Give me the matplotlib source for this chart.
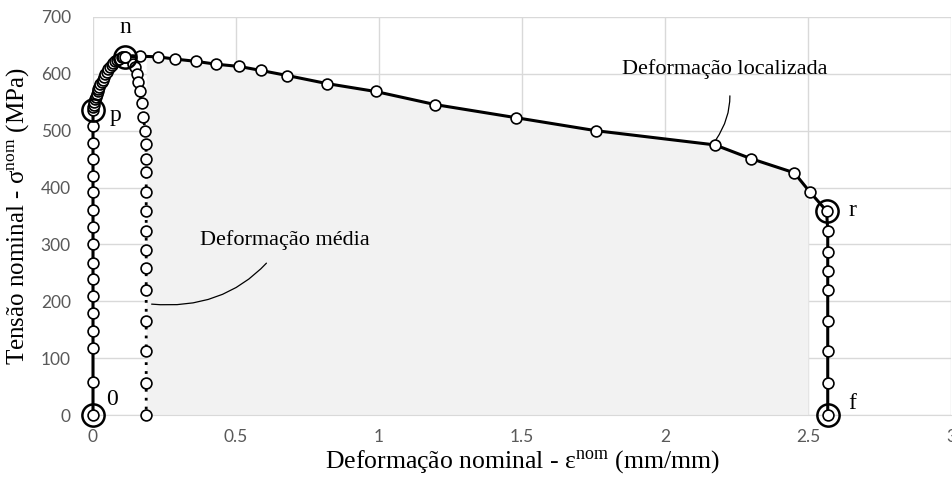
import numpy as np
import matplotlib
matplotlib.use("Agg")
import matplotlib.pyplot as plt

plt.rcParams['mathtext.fontset'] = 'custom'
plt.rcParams['mathtext.rm'] = 'Liberation Serif'
plt.rcParams['mathtext.it'] = 'Liberation Serif:italic'

SERIF = 'Liberation Serif'

# ---- data ----
# elastic branch (x = 0)
elastic_x = [0.0] * 16
elastic_y = [0, 58, 118, 148, 179, 209, 239, 268, 300, 330, 360, 392, 421, 450, 478, 508]

# hardening branch p -> n
hard_x = [0.0, 0.001, 0.003, 0.005, 0.008, 0.010, 0.013, 0.016, 0.019, 0.022, 0.026,
          0.030, 0.034, 0.038, 0.043, 0.048, 0.053, 0.059, 0.065, 0.071, 0.078,
          0.085, 0.092, 0.100, 0.106, 0.112]
hard_y = [536, 542, 546, 551, 555, 560, 564, 569, 573, 577, 582,
          586, 590, 595, 600, 604, 608, 612, 616, 619, 622,
          625, 627, 629, 630, 630]

# localized strain after necking n -> r
loc_x = [0.164, 0.226, 0.287, 0.360, 0.430, 0.512, 0.587, 0.680, 0.817, 0.988,
         1.196, 1.478, 1.759, 2.175, 2.300, 2.452, 2.507, 2.565]
loc_y = [631, 630, 626, 622, 617, 613, 606, 597, 583, 569,
         546, 523, 500, 475, 451, 426, 392, 359]

# fracture branch r -> f
frac_x = [2.569] * 8
frac_y = [324, 287, 253, 219, 165, 113, 57, 0]

# average strain after necking (dotted)
avg_x = [0.112, 0.135, 0.141, 0.147, 0.153, 0.158, 0.164, 0.170, 0.176, 0.182,
         0.185, 0.186, 0.186, 0.186, 0.186, 0.186, 0.186, 0.186, 0.186, 0.186,
         0.186, 0.186, 0.186]
avg_y = [630, 624, 618, 612, 600, 586, 570, 548, 525, 500,
         476, 451, 427, 392, 358, 324, 290, 258, 220, 166,
         113, 57, 0]

# key points
key_names = ['0', 'p', 'n', 'r', 'f']
key_x = [0.0, 0.0, 0.112, 2.565, 2.569]
key_y = [0, 536, 630, 359, 0]

x_ticks = [0, 0.5, 1, 1.5, 2, 2.5, 3]
x_tick_labels = ['0', '0.5', '1', '1.5', '2', '2.5', '3']
y_ticks = [0, 100, 200, 300, 400, 500, 600, 700]

# ---- figure ----
fig = plt.figure(figsize=(9.53, 4.83), dpi=100)
ax = fig.add_axes([93 / 953, 1 - 415 / 483, (951 - 93) / 953, (415 - 17) / 483])

# shaded area under localized curve between average-strain line and x = 2.5
x0, x1 = 0.186, 2.5
sel = [(a, b) for a, b in zip(loc_x, loc_y) if x0 < a < x1]
fx = [x0] + [a for a, b in sel] + [x1]
fy = [np.interp(x0, loc_x, loc_y)] + [b for a, b in sel] + [np.interp(x1, loc_x, loc_y)]
ax.fill_between(fx, 0, fy, color='#f2f2f2', lw=0, zorder=1)

mk = dict(marker='o', ms=7.8, mfc='white', mec='black', mew=1.2)

# dotted (average strain)
ax.plot(avg_x, avg_y, color='black', lw=2.0, ls=(0, (1, 2.2)), zorder=3, **mk)

# solid path 0 -> p -> n -> r -> f
all_x = elastic_x + hard_x + loc_x + frac_x
all_y = elastic_y + hard_y + loc_y + frac_y
ax.plot(all_x, all_y, color='black', lw=2.2, zorder=4, **mk)

# rings on key points
ax.plot(key_x, key_y, ls='none', marker='o', ms=16, mfc='none', mec='black',
        mew=1.8, zorder=5)

label_pos = {'0': (0.065, 28), 'p': (0.08, 526), 'n': (0.112, 681),
             'r': (2.655, 359), 'f': (2.655, 20)}
for name in key_names:
    lx, ly = label_pos[name]
    ax.text(lx, ly, name, family=SERIF, fontsize=17, ha='center', va='center',
            zorder=6)

# annotations
ax.annotate('Deformação localizada', xy=(2.178, 484), xytext=(2.21, 608),
            family=SERIF, fontsize=16, ha='center', va='center',
            arrowprops=dict(arrowstyle='-', color='black', lw=0.9,
                            connectionstyle='arc3,rad=-0.25',
                            shrinkA=10, shrinkB=0))
ax.annotate('Deformação média', xy=(0.205, 195), xytext=(0.67, 308),
            family=SERIF, fontsize=16, ha='center', va='center',
            arrowprops=dict(arrowstyle='-', color='black', lw=0.9,
                            connectionstyle='arc3,rad=-0.3',
                            shrinkA=10, shrinkB=0))

ax.set_xlim(0, 3)
ax.set_ylim(0, 700)
ax.set_xticks(x_ticks)
ax.set_xticklabels(x_tick_labels)
ax.set_yticks(y_ticks)
ax.grid(True, color='#d9d9d9', lw=1.0, zorder=0)
ax.set_axisbelow(True)
for side in ['top', 'right', 'left']:
    ax.spines[side].set_visible(False)
ax.spines['bottom'].set_color('#d9d9d9')
ax.tick_params(length=0, labelsize=12.5, labelcolor='#595959')
ax.tick_params(axis='x', pad=10)
ax.tick_params(axis='y', pad=16)
for lbl in ax.get_xticklabels() + ax.get_yticklabels():
    lbl.set_family('Lato')

ax.set_xlabel('Deformação nominal - ε$^{\\rm nom}$ (mm/mm)', family=SERIF,
              fontsize=18.5, labelpad=2)
ax.set_ylabel('Tensão nominal - σ$^{\\rm nom}$ (MPa)', family=SERIF,
              fontsize=18, labelpad=7)

for a in ax.get_children():
    try:
        a.set_clip_on(False)
    except Exception:
        pass

fig.savefig('out.png', dpi=100)
